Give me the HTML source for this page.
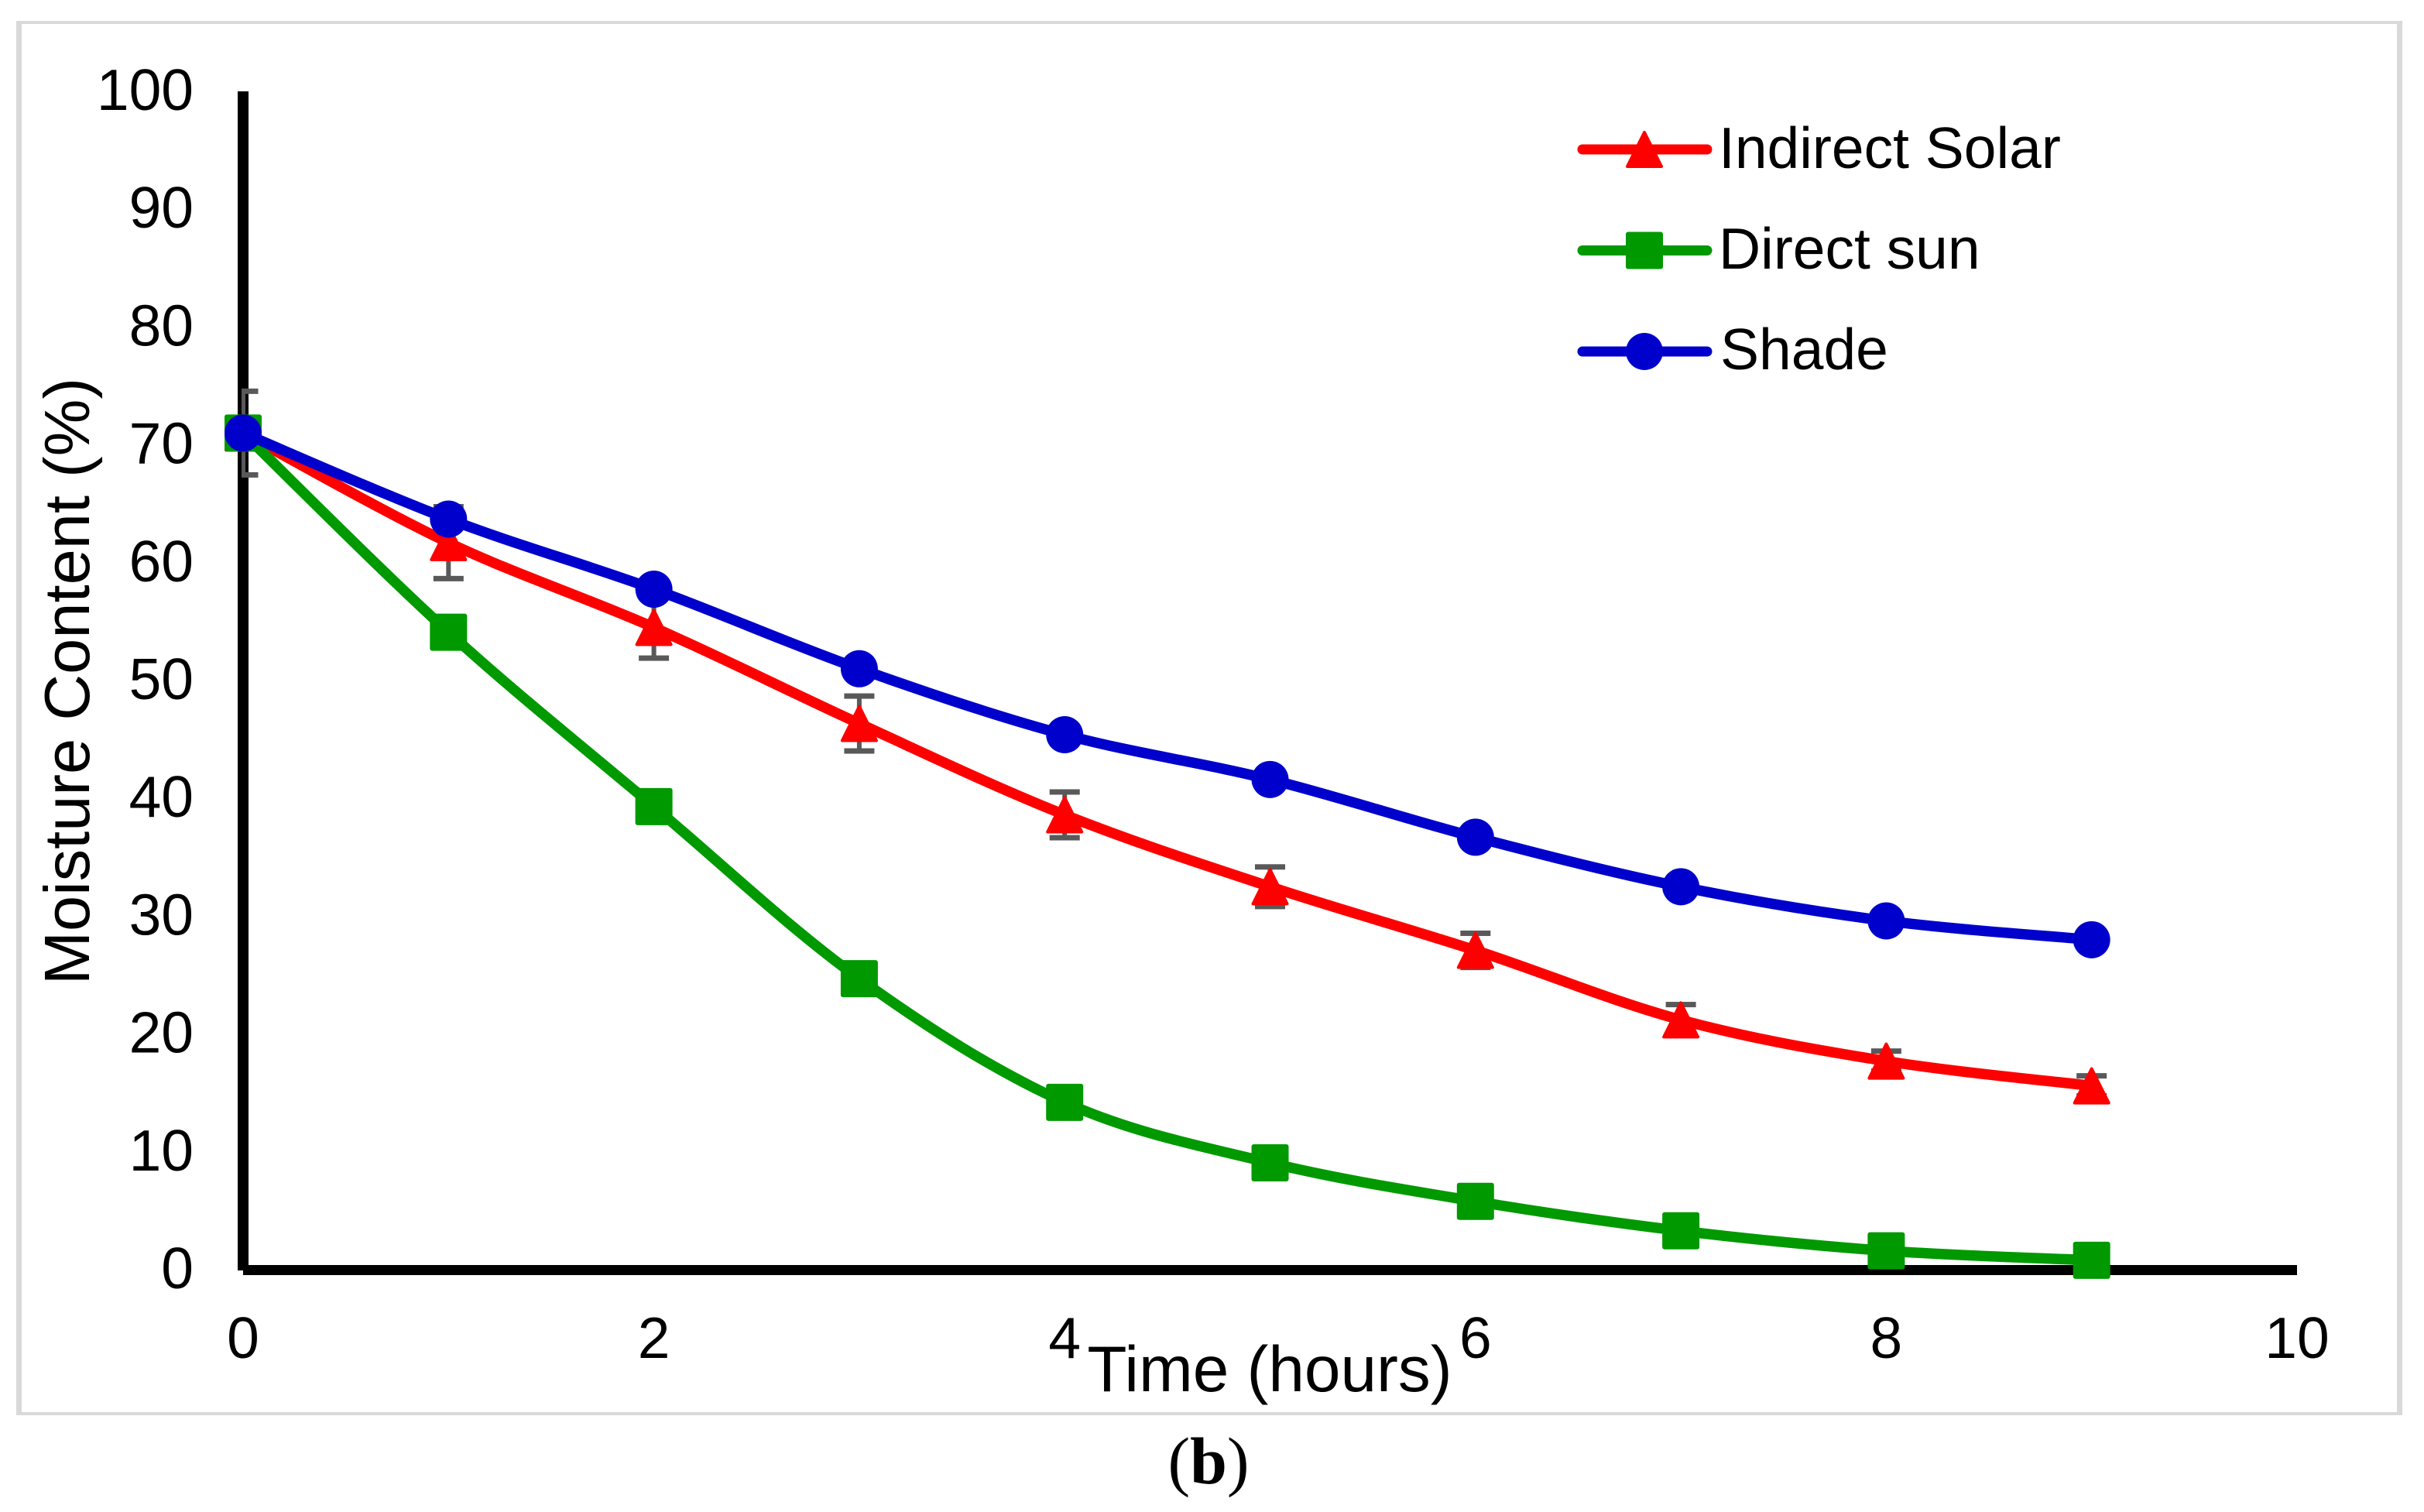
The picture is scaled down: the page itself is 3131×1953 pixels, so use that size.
<!DOCTYPE html>
<html>
<head>
<meta charset="utf-8">
<title>Moisture Content vs Time</title>
<style>
html,body{margin:0;padding:0;background:#fff;}
svg{display:block;}
text{font-family:"Liberation Sans",sans-serif;fill:#000;}
</style>
</head>
<body>
<svg id="chart" xmlns="http://www.w3.org/2000/svg" width="3131" height="1953" viewBox="0 0 3131 1953">
  <rect width="3131" height="1953" fill="#fff"/>
  <g fill="#d9d9d9">
    <rect x="21" y="27" width="3082" height="4"/>
    <rect x="21" y="1824" width="3082" height="4"/>
    <rect x="21" y="27" width="7" height="1801"/>
    <rect x="3096" y="27" width="7" height="1801"/>
  </g>
  <g id="axes"></g>
  <g id="errors" clip-path="url(#err-clip)"></g>
  <g id="series"></g>
  <defs><clipPath id="err-clip"><rect id="err-clip-rect" x="312" y="0" width="2800" height="1800"/></clipPath></defs>
  <text x="115" y="880" font-size="83" text-anchor="middle" transform="rotate(-90 115 880)">Moisture Content (%)</text>
  <text x="1640" y="1797" font-size="83.7" text-anchor="middle">Time (hours)</text>
  <g>
    <g>
      <line x1="2044" y1="193" x2="2205" y2="193" stroke="#ff0000" stroke-width="13" stroke-linecap="round"/>
      <polygon points="2124,171 2146,215 2102,215" fill="#ff0000" stroke="#ff0000" stroke-width="4" stroke-linejoin="round"/>
      <text x="2220" y="217" font-size="75">Indirect Solar</text>
    </g>
    <g>
      <line x1="2044" y1="323.500" x2="2205" y2="323.500" stroke="#009900" stroke-width="13" stroke-linecap="round"/>
      <rect x="2100" y="299.500" width="48" height="48" rx="3" fill="#009900"/>
      <text x="2220" y="347" font-size="75">Direct sun</text>
    </g>
    <g>
      <line x1="2044" y1="454" x2="2205" y2="454" stroke="#0000cc" stroke-width="13" stroke-linecap="round"/>
      <circle cx="2124" cy="454" r="24" fill="#0000cc"/>
      <text x="2222" y="477" font-size="75">Shade</text>
    </g>
  </g>
  <text x="1561" y="1916" font-size="86" text-anchor="middle" style="font-family:'Liberation Serif',serif">(<tspan font-weight="bold">b</tspan>)</text>
</svg>
<script>
var hours = [0,1,2,3,4,5,6,7,8,9];
var indirectSolar = [71,61.7,54.5,46.35,38.6,32.5,27.1,21.2,17.7,15.6];
var indirectError = [3.55,3.05,2.6,2.33,1.94,1.68,1.45,1.3,0.85,0.85];
var directSun = [71,54.1,39.3,24.7,14.2,9.07,5.8,3.3,1.6,0.8];
var shade = [71,63.7,57.75,51,45.4,41.6,36.7,32.5,29.6,28];
var xTicks = [0,2,4,6,8,10];
var yTicks = [0,10,20,30,40,50,60,70,80,90,100];

var NS = 'http://www.w3.org/2000/svg';
var xMin = 0, xMax = 10, yMin = 0, yMax = 100;
var plotLeft = 314, plotRight = 2967, plotTop = 118, plotBottom = 1640;
function xs(v){ return plotLeft + (v - xMin) / (xMax - xMin) * (plotRight - plotLeft); }
function ys(v){ return plotBottom - (v - yMin) / (yMax - yMin) * (plotBottom - plotTop); }
function mk(tag, attrs, parent){
  var el = document.createElementNS(NS, tag);
  for (var k in attrs) { el.setAttribute(k, attrs[k]); }
  parent.appendChild(el);
  return el;
}
var axes = document.getElementById('axes');
var errors = document.getElementById('errors');
var seriesG = document.getElementById('series');

var yAxisLine = mk('rect', {x: plotLeft - 7, y: plotTop, width: 14, height: plotBottom - plotTop + 1, fill: '#000'}, axes);


var xAxisLine = mk('rect', {x: plotLeft, y: plotBottom - 6, width: plotRight - plotLeft, height: 13, fill: '#000'}, axes);



yTicks.forEach(function(t){
  var el = mk('text', {x: 250, y: ys(t) + 24, 'font-size': 75, 'text-anchor': 'end'}, axes);
  el.textContent = String(t);
  
  
});
xTicks.forEach(function(t){
  var el = mk('text', {x: xs(t), y: 1754, 'font-size': 75, 'text-anchor': 'middle'}, axes);
  el.textContent = String(t);
  
  
});

hours.forEach(function(h, i){
  var cx = xs(h), hi = ys(indirectSolar[i] + indirectError[i]), lo = ys(indirectSolar[i] - indirectError[i]);
  var eb = mk('path', {d: 'M' + cx + ' ' + hi + 'V' + lo, stroke: '#595959', 'stroke-width': 6, fill: 'none'}, errors);
  
  
  var c1 = mk('rect', {x: cx - 19.5, y: hi - 3.5, width: 39, height: 7, fill: '#595959'}, errors);
  
  
  var c2 = mk('rect', {x: cx - 19.5, y: lo - 3.5, width: 39, height: 7, fill: '#595959'}, errors);
  
  
});

function smoothPath(vals){
  var p = vals.map(function(v, i){ return [xs(hours[i]), ys(v)]; });
  var d = 'M' + p[0][0] + ' ' + p[0][1];
  for (var i = 0; i < p.length - 1; i++) {
    var a = p[Math.max(i - 1, 0)], b = p[i], c = p[i + 1], e = p[Math.min(i + 2, p.length - 1)];
    d += 'C' + (b[0] + (c[0] - a[0]) / 6) + ' ' + (b[1] + (c[1] - a[1]) / 6) + ' ' +
         (c[0] - (e[0] - b[0]) / 6) + ' ' + (c[1] - (e[1] - b[1]) / 6) + ' ' + c[0] + ' ' + c[1];
  }
  return d;
}

function drawLine(vals, color, name){
  var g = mk('g', {}, seriesG);
  
  
  var line = mk('path', {d: smoothPath(vals), fill: 'none', stroke: color, 'stroke-width': 13.5, 'stroke-linecap': 'round', 'stroke-linejoin': 'round'}, g);
  
  
  return g;
}

var redG = drawLine(indirectSolar, '#ff0000', 'series-indirect-solar');
indirectSolar.forEach(function(v, i){
  var cx = xs(hours[i]), cy = ys(v);
  var m = mk('polygon', {points: cx + ',' + (cy - 22) + ' ' + (cx + 22) + ',' + (cy + 22) + ' ' + (cx - 22) + ',' + (cy + 22), fill: '#ff0000', stroke: '#ff0000', 'stroke-width': 4, 'stroke-linejoin': 'round'}, redG);
  
  
});

var greenG = drawLine(directSun, '#009900', 'series-direct-sun');
directSun.forEach(function(v, i){
  var m = mk('rect', {x: xs(hours[i]) - 24, y: ys(v) - 24, width: 48, height: 48, rx: 3, fill: '#009900'}, greenG);
  
  
});

var blueG = drawLine(shade, '#0000cc', 'series-shade');
shade.forEach(function(v, i){
  var m = mk('circle', {cx: xs(hours[i]), cy: ys(v), r: 24, fill: '#0000cc'}, blueG);
  
  
});
</script>
</body>
</html>
